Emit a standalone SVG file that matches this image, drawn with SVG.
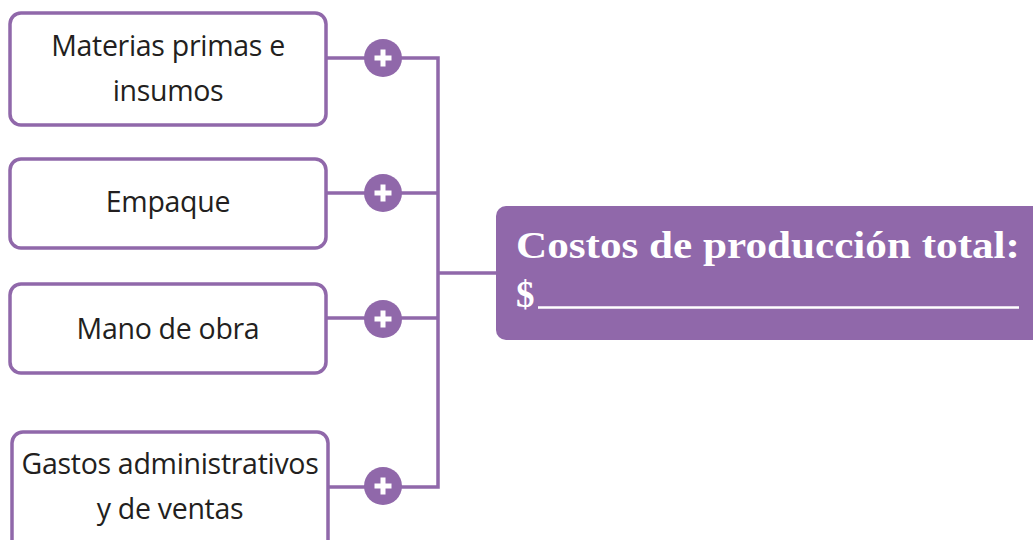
<svg xmlns="http://www.w3.org/2000/svg" width="1033" height="540" viewBox="0 0 1033 540">
<style>
.box{fill:#fff;stroke:#9068aa;stroke-width:3.5}
.lbl{font-family:"Open Sans","Noto Sans",sans-serif;font-size:28.5px;fill:#231f20;text-anchor:middle;letter-spacing:-0.3px}
.ln{stroke:#9068aa;stroke-width:3.5;fill:none}
.plus{fill:#9068aa}
.pl{stroke:#fff;stroke-width:5;stroke-linecap:butt}
.main{font-family:"Liberation Serif",serif;font-weight:bold;font-size:37px;fill:#fff}
</style>
<defs>
<g id="plusIcon"><circle r="19" class="plus"/><path class="pl" d="M-8.5 0H8.5M0 -8.5V8.5"/></g>
</defs>
<g id="connectors">
<path class="ln" d="M326 58H438V487H326M326 193H438M326 318H438M438 273H497"/>
</g>
<g id="n1"><rect class="box" x="10" y="13" width="316" height="112" rx="11"/><text class="lbl" x="168" y="56">Materias primas e</text><text class="lbl" x="168" y="101">insumos</text></g>
<g id="n2"><rect class="box" x="10" y="159" width="316" height="89" rx="11"/><text class="lbl" x="168" y="212">Empaque</text></g>
<g id="n3"><rect class="box" x="10" y="284" width="316" height="89" rx="11"/><text class="lbl" x="168" y="339">Mano de obra</text></g>
<g id="n4"><rect class="box" x="12" y="432" width="316" height="120" rx="11"/><text class="lbl" x="170" y="474">Gastos administrativos</text><text class="lbl" x="170" y="519">y de ventas</text></g>
<g id="p1"><use href="#plusIcon" x="383" y="58"/></g>
<g id="p2"><use href="#plusIcon" x="383" y="193"/></g>
<g id="p3"><use href="#plusIcon" x="383" y="319"/></g>
<g id="p4"><use href="#plusIcon" x="383" y="486"/></g>
<g id="main"><rect x="496" y="206" width="560" height="134" rx="10" fill="#9068aa"/>
<text class="main" x="516" y="258" textLength="504" lengthAdjust="spacingAndGlyphs">Costos de producción total:</text>
<text class="main" x="516" y="307">$</text>
<line x1="538" y1="307.5" x2="1019" y2="307.5" stroke="#fff" stroke-width="2.5"/>
</g>
</svg>
